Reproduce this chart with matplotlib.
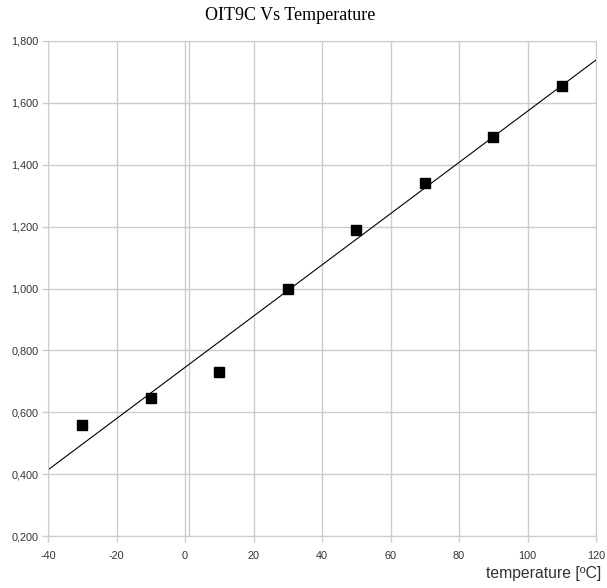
import matplotlib.pyplot as plt
import numpy as np

# данные
temperature = [-30, -10, 10, 30, 50, 70, 90, 110]
oit = [0.56, 0.645, 0.73, 1.0, 1.19, 1.34, 1.49, 1.655]

x_ticks = [-40, -20, 0, 20, 40, 60, 80, 100, 120]
y_ticks = [0.2, 0.4, 0.6, 0.8, 1.0, 1.2, 1.4, 1.6, 1.8]

fig = plt.figure(figsize=(6.07, 5.88), dpi=100)
ax = fig.add_axes([0.0791, 0.0884, 0.9028, 0.8419])

grid_c = '#cccccc'
ax.set_xlim(-40, 120)
ax.set_ylim(0.2, 1.8)
ax.set_xticks(x_ticks)
ax.set_yticks(y_ticks)
ax.set_xticklabels([str(t) for t in x_ticks])
ax.set_yticklabels([f'{v:.3f}'.replace('.', ',') for v in y_ticks])
ax.grid(True, color=grid_c, linewidth=1.0)
ax.axvline(1.2, color=grid_c, linewidth=1.0)  # вторая линия у нуля
for s in ax.spines.values():
    s.set_color(grid_c)
ax.tick_params(colors=grid_c, labelcolor='#333333', labelsize=7.8, length=4, width=1)
ax.tick_params(axis='x', pad=7)
ax.tick_params(axis='y', pad=3)
for lab in ax.get_xticklabels() + ax.get_yticklabels():
    lab.set_family('Liberation Sans')

# линия тренда
k, b = np.polyfit(temperature, oit, 1)
xs = np.array([-40, 120])
ax.plot(xs, k * xs + b, color='black', linewidth=0.8)

ax.plot(temperature, oit, 's', color='black', markersize=7.5, clip_on=False, zorder=3)

fig.text(0.478, 0.974, 'OIT9C Vs Temperature', ha='center', va='center',
         family='Liberation Serif', fontsize=13)
fig.text(0.99, 0.025, 'temperature [ºC]', ha='right', va='center',
         family='Liberation Sans', fontsize=11.3, color='#333333')

plt.savefig('out.png', dpi=100)
